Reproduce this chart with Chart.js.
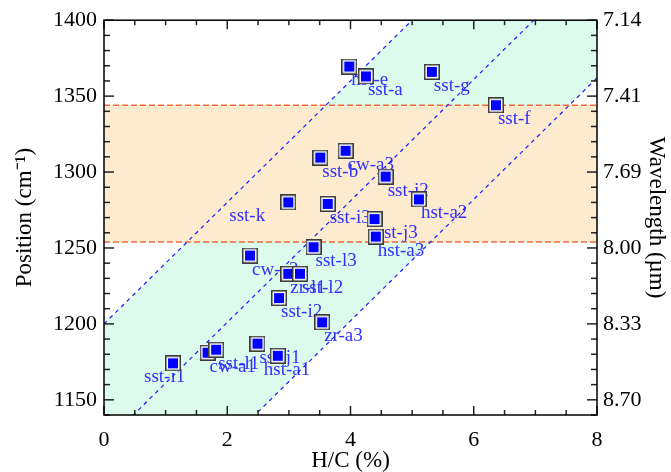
<!DOCTYPE html>
<html>
<head>
<meta charset="utf-8">
<script src="https://cdn.jsdelivr.net/npm/chart.js@4.4.0/dist/chart.umd.min.js"></script>
<style>
  html, body { margin: 0; padding: 0; background: #fff; }
  #wrap { width: 671px; height: 472px; }
</style>
</head>
<body>
<div id="wrap"><canvas id="grafico"></canvas></div>
<script>
// amostras (H/C em %, posicao em cm-1)
var sampleNames = ['sst-i1', 'cw-a1', 'sst-l1', 'sst-j1', 'hst-a1', 'sst-i2', 'zr-a3', 'cw-a2',
  'zr-l1', 'sst-l2', 'sst-l3', 'sst-k', 'sst-i3', 'hst-a2', 'sst-j3', 'hst-a3',
  'hst-e', 'sst-a', 'sst-g', 'sst-f', 'cw-a3', 'sst-b', 'sst-j2'];
var hcValues = [1.12, 1.68, 1.82, 2.49, 2.82, 2.84, 3.54, 2.37,
  2.99, 3.18, 3.40, 2.99, 3.63, 5.11, 4.39, 4.41,
  3.98, 4.25, 5.32, 6.36, 3.92, 3.51, 4.57];
var positionValues = [1174, 1181, 1183, 1187, 1179, 1217, 1201, 1245,
  1233, 1233, 1250.5, 1280, 1279, 1282, 1269, 1257.5,
  1369.5, 1363, 1366, 1344, 1314, 1309.5, 1297];

var xTickValues = [0, 2, 4, 6, 8];
var yTickValues = [1150, 1200, 1250, 1300, 1350, 1400];
var bandLimits = [1254, 1344];
var lineIntercepts = [1200, 1121, 1042];
var lineSlope = 40;

// deslocamento horizontal de alguns rotulos (px)
var labelShift = { 'sst-i1': -29, 'hst-a1': -14, 'sst-k': -59 };

var serif = '"Liberation Serif", "Times New Roman", serif';

function makeMarker() {
  var c = document.createElement('canvas');
  c.width = 16;
  c.height = 16;
  var g = c.getContext('2d');
  g.fillStyle = '#ffffff';
  g.fillRect(0, 0, 16, 16);
  g.strokeStyle = '#3c3c3c';
  g.lineWidth = 1.5;
  g.strokeRect(0.75, 0.75, 14.5, 14.5);
  g.fillStyle = '#0000ff';
  g.fillRect(3, 3, 10, 10);
  return c;
}

var points = hcValues.map(function (v, i) {
  return { x: v, y: positionValues[i] };
});

function linePoints(b) {
  return [{ x: 0, y: b }, { x: 8, y: b + lineSlope * 8 }];
}

// faixas de fundo + rotulos
var backgroundPlugin = {
  id: 'fundo',
  beforeDatasetsDraw: function (chart) {
    var ctx = chart.ctx, a = chart.chartArea;
    var x = chart.scales.x, y = chart.scales.y;
    ctx.save();
    ctx.beginPath();
    ctx.rect(a.left, a.top, a.right - a.left, a.bottom - a.top);
    ctx.clip();

    var top = lineIntercepts[0], bottom = lineIntercepts[lineIntercepts.length - 1];
    ctx.fillStyle = '#ddfbec';
    ctx.beginPath();
    ctx.moveTo(x.getPixelForValue(0), y.getPixelForValue(top));
    ctx.lineTo(x.getPixelForValue(8), y.getPixelForValue(top + lineSlope * 8));
    ctx.lineTo(x.getPixelForValue(8), y.getPixelForValue(bottom + lineSlope * 8));
    ctx.lineTo(x.getPixelForValue(0), y.getPixelForValue(bottom));
    ctx.closePath();
    ctx.fill();

    var y1 = y.getPixelForValue(bandLimits[1]);
    var y0 = y.getPixelForValue(bandLimits[0]);
    ctx.fillStyle = '#fdebd0';
    ctx.fillRect(a.left, y1, a.right - a.left, y0 - y1);

    ctx.strokeStyle = '#f26a3c';
    ctx.lineWidth = 1.5;
    ctx.setLineDash([6, 3]);
    [y0, y1].forEach(function (py) {
      ctx.beginPath();
      ctx.moveTo(a.left, py);
      ctx.lineTo(a.right, py);
      ctx.stroke();
    });
    ctx.setLineDash([]);

    ctx.font = '19px ' + serif;
    ctx.fillStyle = '#3232ff';
    ctx.textAlign = 'left';
    ctx.textBaseline = 'middle';
    sampleNames.forEach(function (name, i) {
      var dx = labelShift[name] !== undefined ? labelShift[name] : 2;
      ctx.fillText(name, x.getPixelForValue(hcValues[i]) + dx, y.getPixelForValue(positionValues[i]) + 14);
    });
    ctx.restore();
  }
};

// moldura com ticks para dentro
var framePlugin = {
  id: 'moldura',
  afterDatasetsDraw: function (chart) {
    var ctx = chart.ctx, a = chart.chartArea;
    var x = chart.scales.x, y = chart.scales.y;
    ctx.save();
    ctx.strokeStyle = '#222';
    ctx.lineWidth = 1.5;
    function seg(x0, y0, x1, y1) {
      ctx.beginPath();
      ctx.moveTo(x0, y0);
      ctx.lineTo(x1, y1);
      ctx.stroke();
    }
    for (var v = 0; v <= 8; v += 0.5) {
      var px = x.getPixelForValue(v);
      var len = v % 2 === 0 ? 9 : 5;
      seg(px, a.bottom, px, a.bottom - len);
      seg(px, a.top, px, a.top + len);
    }
    for (var w = 1140; w <= 1400; w += 10) {
      var py = y.getPixelForValue(w);
      var l = w % 50 === 0 ? 10 : 6;
      seg(a.left, py, a.left + l, py);
      seg(a.right, py, a.right - l, py);
    }
    ctx.strokeStyle = '#000';
    ctx.strokeRect(a.left, a.top, a.right - a.left, a.bottom - a.top);
    ctx.restore();
  }
};

var tickFont = { family: serif, size: 22 };
var titleFont = { family: serif, size: 23, lineHeight: 1 };
var noGrid = { display: false, drawTicks: false };

var datasets = [{
  label: 'amostras',
  data: points,
  pointStyle: makeMarker(),
  pointRadius: 8,
  pointHoverRadius: 8
}];
lineIntercepts.forEach(function (b) {
  datasets.push({
    data: linePoints(b),
    showLine: true,
    pointRadius: 0,
    borderColor: '#1a1aff',
    borderWidth: 1.2,
    borderDash: [4, 4]
  });
});

new Chart(document.getElementById('grafico'), {
  type: 'scatter',
  data: { datasets: datasets },
  options: {
    responsive: true,
    maintainAspectRatio: false,
    animation: false,
    layout: { padding: { top: 17, left: 0, right: 0, bottom: 0 } },
    plugins: { legend: { display: false }, tooltip: { enabled: false } },
    scales: {
      x: {
        type: 'linear', position: 'bottom', min: 0, max: 8,
        grid: noGrid, border: { display: false },
        ticks: { font: tickFont, color: '#000', padding: 12, maxRotation: 0 },
        afterBuildTicks: function (s) { s.ticks = xTickValues.map(function (v) { return { value: v }; }); },
        afterFit: function (s) { s.height = 57; },
        title: { display: true, text: 'H/C (%)', font: titleFont, color: '#000', padding: 0 }
      },
      y: {
        type: 'linear', position: 'left', min: 1140, max: 1400,
        grid: noGrid, border: { display: false },
        ticks: { font: tickFont, color: '#000', padding: 7, callback: function (v) { return String(v); } },
        afterBuildTicks: function (s) { s.ticks = yTickValues.map(function (v) { return { value: v }; }); },
        afterFit: function (s) { s.width = 104; },
        title: { display: true, text: 'Position (cm\u207B\u00B9)', font: titleFont, color: '#000', padding: { top: 13, bottom: 0 } }
      },
      y2: {
        type: 'linear', position: 'right', min: 1140, max: 1400,
        grid: noGrid, border: { display: false },
        ticks: {
          font: tickFont, color: '#000', padding: 6,
          callback: function (v) { return (1e4 / v).toFixed(2); }
        },
        afterBuildTicks: function (s) { s.ticks = yTickValues.map(function (v) { return { value: v }; }); },
        afterFit: function (s) { s.width = 74; },
        title: { display: true, text: 'Wavelength (\u00B5m)', font: titleFont, color: '#000', padding: { top: 3, bottom: 0 } }
      }
    }
  },
  plugins: [backgroundPlugin, framePlugin]
});
</script>
</body>
</html>
